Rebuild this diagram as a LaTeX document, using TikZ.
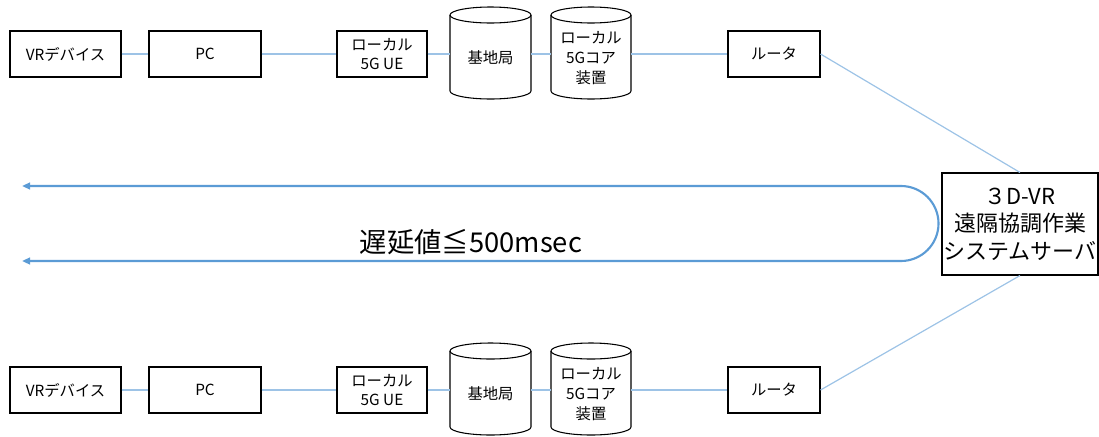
\documentclass[tikz,border=0pt]{standalone}
\usepackage{fontspec}
\setmainfont{Noto Sans CJK JP}
\usetikzlibrary{arrows.meta}
\definecolor{conn}{HTML}{9DC3E6}
\definecolor{arr}{HTML}{5B9BD5}
\begin{document}
\begin{tikzpicture}[x=0.75pt,y=-0.75pt,
  box/.style={draw=black,line width=0.8pt,minimum height=34.5pt,inner sep=0pt,align=center,font=\fontsize{11.5}{14}\selectfont},
  cylbody/.style={inner sep=0pt,minimum width=60.75pt,minimum height=63pt,align=center,font=\fontsize{11.5}{15}\selectfont},
  cylline/.style={draw=black,line width=0.8pt},
  connline/.style={draw=conn,line width=0.9pt},
  arrline/.style={draw=arr,line width=1.6pt,arrows={Triangle[length=6pt,width=5pt]-Triangle[length=6pt,width=5pt]}},
  server/.style={draw=black,line width=0.8pt,fill=white,minimum width=117pt,minimum height=76.5pt,inner sep=0pt,align=center,font=\fontsize{16.5}{20.5}\selectfont}]
\useasboundingbox (0,0) rectangle (1099,436);

\node[server] (srv) at (1020,224) {３D-VR\\遠隔協調作業\\システムサーバ};

\foreach \r/\dy in {1/0,2/336}{
  \node[box,minimum width=83.25pt] (vr\r) at (65.5,54+\dy) {VRデバイス};
  \node[box,minimum width=84pt] (pc\r) at (205,54+\dy) {PC};
  \node[box,minimum width=67.5pt] (ue\r) at (382,54+\dy) {ローカル\\5G UE};
  \node[box,minimum width=69pt] (rt\r) at (774,54+\dy) {ルータ};
  % cylinders
  \draw[cylline] (450,15+\dy) -- (450,91+\dy) arc[start angle=180,end angle=0,x radius=40.5,y radius=8] -- (531,15+\dy);
  \draw[cylline] (490.5,15+\dy) ellipse[x radius=40.5,y radius=8];
  \draw[cylline] (551,15+\dy) -- (551,91+\dy) arc[start angle=180,end angle=0,x radius=40,y radius=8] -- (631,15+\dy);
  \draw[cylline] (591,15+\dy) ellipse[x radius=40,y radius=8];
  \node[cylbody] (bs\r) at (490.5,58+\dy) {基地局};
  \node[cylbody,minimum width=60pt] (core\r) at (591,58+\dy) {ローカル\\5Gコア\\装置};
  % connectors
  \draw[connline] (vr\r.east) -- (pc\r.west);
  \draw[connline] (pc\r.east) -- (ue\r.west);
  \draw[connline] (ue\r.east) -- (bs\r.west |- ue\r.east);
  \draw[connline] (bs\r.east |- ue\r.east) -- (core\r.west |- ue\r.east);
  \draw[connline] (core\r.east |- ue\r.east) -- (rt\r.west);
}
\draw[connline] (rt1.east) -- (srv.north);
\draw[connline] (srv.south) -- (rt2.east);

\coordinate (tipU) at (22,186);
\coordinate (tipL) at (22,261);
\coordinate (bendU) at (901,186);
\draw[arrline] (tipU) -- (bendU) arc[start angle=-90,end angle=90,radius=37.5] -- (tipL);
\node[font=\fontsize{20.5}{24}\selectfont,inner sep=0pt] (lat) at (471,242) {遅延値≦500msec};
\end{tikzpicture}
\end{document}
